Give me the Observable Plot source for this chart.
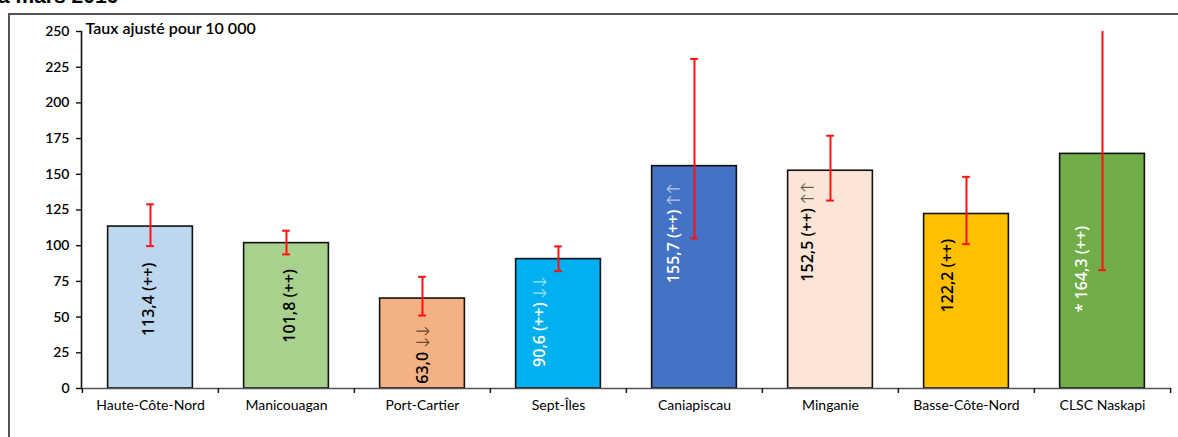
<!DOCTYPE html>
<html>
<head>
<meta charset="utf-8">
<script src="https://cdn.jsdelivr.net/npm/d3@7"></script>
<script src="https://cdn.jsdelivr.net/npm/@observablehq/plot@0.6"></script>
<style>
  html, body { margin: 0; padding: 0; background: #fff; overflow: hidden; }
  #wrap { position: relative; width: 1178px; height: 437px; overflow: hidden; }
  #title { position: absolute; left: -2px; top: -16px; font: bold 21px "Liberation Sans", Arial, sans-serif; color: #000; white-space: nowrap; line-height: 24px; }
  #frame { position: absolute; left: 8px; top: 13px; width: 1200px; height: 460px; border-top: 2px solid #555; border-left: 2px solid #555; }
  #chart { position: absolute; left: 0; top: 0; }
</style>
</head>
<body>
<div id="wrap">
  <div id="title">à mars 2016</div>
  <div id="frame"></div>
  <div id="chart"></div>
</div>
<script>
// ---- data ----
const regions = ["Haute-Côte-Nord", "Manicouagan", "Port-Cartier", "Sept-Îles", "Caniapiscau", "Minganie", "Basse-Côte-Nord", "CLSC Naskapi"];
const rates   = [113.4, 101.8, 63.0, 90.6, 155.7, 152.5, 122.2, 164.3];
const ciLow   = [99.7, 93.9, 51.1, 82.2, 105.1, 131.6, 101.1, 82.9];
const ciHigh  = [129.0, 110.5, 78.2, 99.5, 230.8, 177.0, 148.2, 326.0];
const valueLabels = ["113,4 (++)", "101,8 (++)", "63,0", "90,6 (++)", "155,7 (++)", "152,5 (++)", "122,2 (++)", "* 164,3 (++)"];
const trendArrows = ["", "", "↓↓", "↓↓", "↑↑", "↑↑", "", ""];
const yTicks = [0, 25, 50, 75, 100, 125, 150, 175, 200, 225, 250];
const yLabel = "Taux ajusté pour 10 000";

// ---- styles ----
const barColors  = ["#BDD7EE", "#A9D18E", "#F4B183", "#00B0F0", "#4472C4", "#FBE5D6", "#FFC000", "#70AD47"];
const textColors = ["#000", "#000", "#000", "#fff", "#fff", "#000", "#000", "#fff"];
// hand-placed label nudges (px), as in the source chart
const labelGapPx   = [36, 26, 27, 17, 17, 11, 25, 72];
const labelShiftPx = [-2, 3, 0, -19, -21, -23, -19, -21];

const labelFont = "'Open Sans', Lato, sans-serif";
const labelSize = 16;
const arrowSize = 15;
const ctx = document.createElement("canvas").getContext("2d");
function measure(str, weight, size) {
  ctx.font = `${weight} ${size}px ${labelFont}`;
  return ctx.measureText(str).width;
}

const data = regions.map((r, i) => {
  const arrowText = trendArrows[i] ? " " + trendArrows[i] : "";
  const wNum = measure(valueLabels[i], 600, labelSize);
  const wArr = arrowText ? measure(arrowText, 400, arrowSize) : 0;
  return {
    region: r, rate: rates[i], lo: ciLow[i], hi: ciHigh[i],
    label: valueLabels[i], arrows: arrowText,
    fill: barColors[i], ink: textColors[i],
    gap: labelGapPx[i], shift: labelShiftPx[i], total: wNum + wArr
  };
});

const W = 1178, H = 437, ML = 81, MR = 7, MT = 31, MB = 49;
const step = (W - ML - MR) / regions.length;
const barInset = (step - 85) / 2;
const capInset = (step - 8) / 2;
const font = "Lato, 'Open Sans', sans-serif";

const labelMarks = data.flatMap(d => {
  const marks = [
    Plot.text([d], {
      x: "region", y: "rate", text: "label", fill: d.ink, rotate: -90,
      textAnchor: "start", lineAnchor: "middle", fontFamily: labelFont,
      fontSize: labelSize, fontWeight: 600, dx: d.shift, dy: d.gap + d.total
    })
  ];
  if (d.arrows) {
    marks.push(Plot.text([d], {
      x: "region", y: "rate", text: "arrows", fill: d.ink, fillOpacity: 0.6, rotate: -90,
      textAnchor: "end", lineAnchor: "middle", fontFamily: labelFont,
      fontSize: arrowSize, dx: d.shift, dy: d.gap
    }));
  }
  return marks;
});

const chart = Plot.plot({
  width: W, height: H,
  marginLeft: ML, marginRight: MR, marginTop: MT, marginBottom: MB,
  style: { fontFamily: font, background: "transparent", color: "#000" },
  x: { domain: regions, padding: 0, label: null },
  y: { domain: [0, 250], label: null },
  marks: [
    Plot.barY(data, { x: "region", y: "rate", fill: "fill", stroke: "#111", strokeWidth: 1.6, insetLeft: barInset, insetRight: barInset }),
    Plot.ruleY([0], { stroke: "#555", strokeWidth: 1.6 }),
    Plot.frame({ anchor: "left", stroke: "#111", strokeWidth: 1.6 }),
    Plot.axisY({ ticks: yTicks, tickSize: 5, tickPadding: 7, fontSize: 14, fontWeight: 600, stroke: "#111", strokeWidth: 1.4, label: null }),
    Plot.axisX({ tickSize: 0, tickPadding: 12, fontSize: 14, label: null }),
    Plot.axisX({ tickSize: 5, text: null, dx: -step / 2, stroke: "#111", strokeWidth: 1.4, label: null }),
    Plot.axisX({ ticks: [regions[regions.length - 1]], tickSize: 5, text: null, dx: step / 2, stroke: "#111", strokeWidth: 1.4, label: null }),
    ...labelMarks,
    Plot.ruleX(data, { x: "region", y1: "lo", y2: "hi", stroke: "#ff1010", strokeWidth: 2, clip: true }),
    Plot.tickY(data, { x: "region", y: "lo", stroke: "#ff1010", strokeWidth: 2, insetLeft: capInset, insetRight: capInset, clip: true }),
    Plot.tickY(data, { x: "region", y: "hi", stroke: "#ff1010", strokeWidth: 2, insetLeft: capInset, insetRight: capInset, clip: true }),
    Plot.text([yLabel], {
      frameAnchor: "top-left", text: d => d, textAnchor: "start", lineAnchor: "middle",
      dx: 4, dy: -3, fontSize: 16, fontWeight: 600
    })
  ]
});

document.getElementById("chart").appendChild(chart);
</script>
</body>
</html>
